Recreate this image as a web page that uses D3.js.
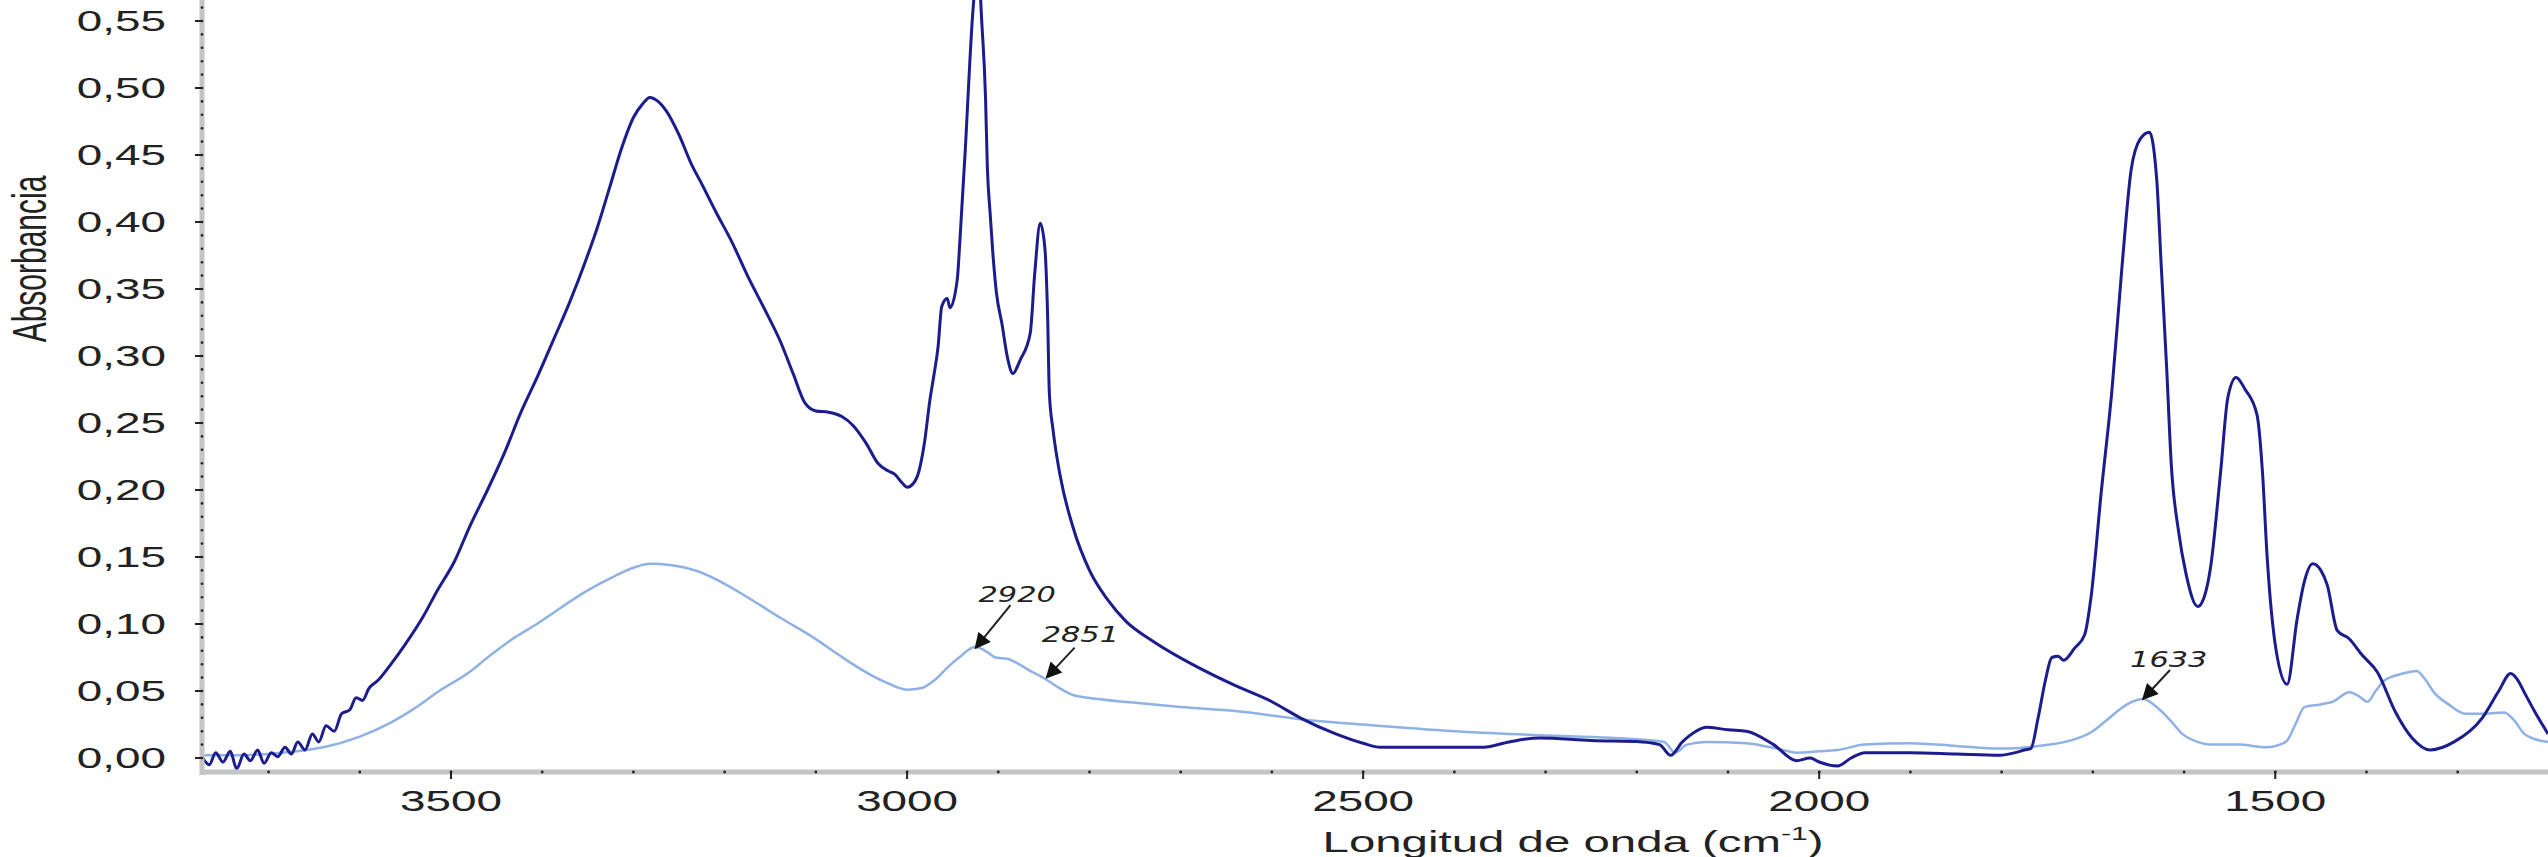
<!DOCTYPE html>
<html>
<head>
<meta charset="utf-8">
<script src="https://cdn.jsdelivr.net/npm/d3@7"></script>
<style>
  html, body { margin: 0; padding: 0; background: #fff; }
  svg { display: block; }
</style>
</head>
<body>
<div id="chart"></div>
<script>
// spectrum readings [wavenumber cm-1, absorbance]
var darkSpectrum = [
  [3773,0.001],[3765,-0.005],[3758,0.004],[3750,-0.003],[3742,0.005],[3735,-0.008],[3727,0.003],
  [3720,-0.002],[3712,0.006],[3705,-0.004],[3697,0.004],[3690,0.001],[3682,0.008],[3675,0.003],
  [3668,0.012],[3660,0.006],[3652,0.018],[3645,0.012],[3637,0.024],[3628,0.02],[3620,0.033],
  [3611,0.036],[3604,0.045],[3597,0.043],[3590,0.052],[3580,0.058],[3567,0.069],[3550,0.085],
  [3531,0.105],[3515,0.125],[3496,0.147],[3480,0.172],[3460,0.2],[3440,0.23],[3424,0.257],
  [3405,0.285],[3389,0.31],[3370,0.34],[3353,0.37],[3340,0.395],[3326,0.426],[3313,0.455],
  [3300,0.478],[3290,0.488],[3282,0.493],[3273,0.49],[3264,0.483],[3250,0.465],[3237,0.444],
  [3224,0.427],[3210,0.408],[3192,0.385],[3175,0.36],[3157,0.336],[3139,0.311],[3125,0.287],
  [3112,0.265],[3100,0.259],[3086,0.258],[3072,0.255],[3059,0.248],[3045,0.235],[3032,0.22],
  [3020,0.214],[3014,0.212],[3005,0.205],[3000,0.202],[2993,0.205],[2987,0.214],[2981,0.235],
  [2975,0.267],[2971,0.284],[2966,0.307],[2962,0.337],[2956,0.343],[2953,0.336],[2945,0.357],
  [2942,0.387],[2936,0.456],[2933,0.496],[2928,0.556],[2922,0.59],[2918,0.548],[2914,0.493],
  [2912,0.441],[2909,0.407],[2906,0.377],[2902,0.347],[2896,0.324],[2890,0.299],[2884,0.287],
  [2876,0.297],[2865,0.317],[2860,0.362],[2854,0.399],[2849,0.381],[2846,0.332],[2844,0.272],
  [2840,0.245],[2832,0.21],[2818,0.172],[2800,0.14],[2780,0.118],[2760,0.102],[2730,0.087],
  [2682,0.068],[2640,0.054],[2600,0.042],[2569,0.03],[2530,0.018],[2500,0.011],[2481,0.008],
  [2420,0.008],[2368,0.008],[2340,0.012],[2307,0.015],[2250,0.013],[2194,0.012],[2175,0.01],
  [2163,0.002],[2150,0.012],[2135,0.02],[2124,0.023],[2100,0.021],[2080,0.02],[2050,0.01],
  [2025,-0.002],[2010,0.0],[2000,-0.003],[1980,-0.006],[1965,0.0],[1950,0.004],[1900,0.004],
  [1850,0.003],[1802,0.002],[1785,0.004],[1775,0.006],[1768,0.007],[1760,0.03],[1752,0.058],
  [1745,0.075],[1738,0.076],[1732,0.073],[1720,0.082],[1709,0.092],[1702,0.12],[1691,0.197],
  [1679,0.275],[1668,0.367],[1658,0.439],[1648,0.462],[1638,0.467],[1630,0.432],[1625,0.367],
  [1619,0.29],[1614,0.219],[1606,0.169],[1598,0.138],[1585,0.113],[1578,0.12],[1571,0.142],
  [1560,0.213],[1552,0.269],[1543,0.284],[1533,0.275],[1520,0.256],[1514,0.213],[1509,0.151],
  [1499,0.08],[1487,0.055],[1476,0.104],[1468,0.132],[1459,0.145],[1450,0.14],[1443,0.129],
  [1432,0.095],[1419,0.089],[1405,0.077],[1388,0.064],[1368,0.034],[1350,0.015],[1330,0.006],
  [1304,0.012],[1273,0.03],[1255,0.05],[1242,0.063],[1234,0.058],[1227,0.049],[1215,0.034],
  [1201,0.018]
];

var lightSpectrum = [
  [3773,0.002],[3740,0.002],[3700,0.003],[3670,0.005],[3640,0.008],[3600,0.016],[3567,0.026],
  [3540,0.037],[3513,0.05],[3480,0.064],[3460,0.075],[3430,0.09],[3406,0.1],[3380,0.112],
  [3353,0.124],[3320,0.136],[3300,0.142],[3282,0.145],[3260,0.144],[3228,0.139],[3200,0.13],
  [3175,0.12],[3140,0.105],[3103,0.09],[3075,0.077],[3050,0.066],[3025,0.057],[3000,0.051],
  [2985,0.052],[2970,0.058],[2955,0.068],[2943,0.075],[2925,0.083],[2912,0.079],[2903,0.075],
  [2890,0.074],[2880,0.071],[2865,0.065],[2851,0.06],[2835,0.053],[2818,0.047],[2790,0.044],
  [2747,0.041],[2700,0.038],[2640,0.035],[2569,0.029],[2500,0.025],[2400,0.02],[2307,0.017],
  [2200,0.014],[2170,0.012],[2158,0.004],[2145,0.01],[2124,0.012],[2080,0.011],[2040,0.006],
  [2025,0.004],[2000,0.005],[1980,0.006],[1950,0.01],[1900,0.011],[1850,0.009],[1802,0.007],
  [1760,0.009],[1725,0.013],[1700,0.02],[1687,0.027],[1660,0.041],[1645,0.044],[1630,0.038],
  [1615,0.028],[1602,0.018],[1585,0.012],[1571,0.01],[1540,0.01],[1510,0.008],[1495,0.01],
  [1487,0.013],[1478,0.025],[1468,0.038],[1450,0.04],[1437,0.042],[1419,0.049],[1408,0.046],
  [1399,0.042],[1390,0.05],[1380,0.058],[1360,0.063],[1345,0.065],[1335,0.058],[1326,0.049],
  [1310,0.04],[1291,0.033],[1270,0.033],[1249,0.034],[1238,0.028],[1227,0.018],[1215,0.014],
  [1201,0.012]
];

var yTicks = [0, 0.05, 0.10, 0.15, 0.20, 0.25, 0.30, 0.35, 0.40, 0.45, 0.50, 0.55];
var xTicks = [3500, 3000, 2500, 2000, 1500];

// peak labels: text, wavenumber and absorbance at arrow tip
var peakLabels = ["2920", "2851", "1633"];
var peakWaves = [2925, 2847, 1645];
var peakAbs = [0.082, 0.060, 0.044];

var W = 2548, H = 857,
    stretch = 1.58,   // the original figure was widened horizontally
    tickFont = "'Liberation Sans', Arial, sans-serif";

var svg = d3.select("#chart")
  .append("svg")
  .attr("width", W)
  .attr("height", H);

var x = d3.scaleLinear().domain([3773, 1201]).range([202, 2548]);
var y = d3.scaleLinear().domain([0, 0.55]).range([758, 21]);

// text helper with horizontal stretch
function stretchedText(g, px, py, txt, rot){
  return g.append("text")
    .attr("transform", "translate(" + px + "," + py + ") scale(" + stretch + ",1)" + (rot ? " rotate(" + rot + ")" : ""))
    .text(txt);
}

// spectra
var line = d3.line()
  .x(function(d){ return x(d[0]); })
  .y(function(d){ return y(d[1]); })
  .curve(d3.curveMonotoneX);

svg.append("path")
  .datum(lightSpectrum)
  .attr("d", line)
  .style("fill", "none")
  .style("stroke", "#8fb1e6")
  .style("stroke-width", 2.5);

svg.append("path")
  .datum(darkSpectrum)
  .attr("d", line)
  .style("fill", "none")
  .style("stroke", "#1c1c8e")
  .style("stroke-width", 3);

// axis bars
var axisG = svg.append("g").attr("class", "axes");

axisG.append("line")
  .attr("x1", 202).attr("x2", 202)
  .attr("y1", 0).attr("y2", 775)
  .style("stroke", "#c4c4c4")
  .style("stroke-width", 5);

axisG.append("line")
  .attr("x1", 200).attr("x2", W)
  .attr("y1", 772).attr("y2", 772)
  .style("stroke", "#c4c4c4")
  .style("stroke-width", 5);

// y minor dots every 0.01
axisG.selectAll(".ydot")
  .data(d3.range(0, 57).map(function(i){ return i / 100; }))
  .enter()
  .append("circle")
  .attr("class", "ydot")
  .attr("cx", 202)
  .attr("cy", function(d){ return y(d); })
  .attr("r", 1.3)
  .style("fill", "#222");

// y major ticks + labels
axisG.selectAll(".ytick")
  .data(yTicks)
  .enter()
  .append("line")
  .attr("class", "ytick")
  .attr("x1", 195).attr("x2", 203)
  .attr("y1", function(d){ return y(d); })
  .attr("y2", function(d){ return y(d); })
  .style("stroke", "#222")
  .style("stroke-width", 2);

var yLab = axisG.append("g")
  .attr("font-family", tickFont)
  .attr("font-size", 29)
  .attr("fill", "#222")
  .attr("text-anchor", "end");

yTicks.forEach(function(t){
  stretchedText(yLab, 166, y(t) + 10, d3.format(".2f")(t).replace(".", ","));
});

// x minor dots every 100
axisG.selectAll(".xdot")
  .data(d3.range(1300, 3800, 100))
  .enter()
  .append("circle")
  .attr("class", "xdot")
  .attr("cx", function(d){ return x(d); })
  .attr("cy", 772)
  .attr("r", 1.4)
  .style("fill", "#222");

axisG.selectAll(".xtick")
  .data(xTicks)
  .enter()
  .append("line")
  .attr("class", "xtick")
  .attr("x1", function(d){ return x(d); })
  .attr("x2", function(d){ return x(d); })
  .attr("y1", 771).attr("y2", 779)
  .style("stroke", "#222")
  .style("stroke-width", 2);

var xLab = axisG.append("g")
  .attr("font-family", tickFont)
  .attr("font-size", 29)
  .attr("fill", "#222")
  .attr("text-anchor", "middle");

xTicks.forEach(function(t){
  stretchedText(xLab, x(t), 811, t);
});

// axis titles
var yTitle = stretchedText(svg, 46, 259, "Absorbancia", -90)
  .attr("font-family", tickFont)
  .attr("font-size", 30)
  .attr("fill", "#222")
  .attr("text-anchor", "middle");

var xTitle = svg.append("text")
  .attr("transform", "translate(1573,852) scale(" + stretch + ",1)")
  .attr("font-family", tickFont)
  .attr("font-size", 30)
  .attr("fill", "#222")
  .attr("text-anchor", "middle");
xTitle.append("tspan").text("Longitud de onda (cm");
xTitle.append("tspan").attr("font-size", 19).attr("dy", -12).text("-1");
xTitle.append("tspan").attr("dy", 12).text(")");

// peak annotations
svg.append("defs").append("marker")
  .attr("id", "arrowHead")
  .attr("viewBox", "0 0 10 10")
  .attr("refX", 9).attr("refY", 5)
  .attr("markerWidth", 9).attr("markerHeight", 8)
  .attr("markerUnits", "strokeWidth")
  .attr("orient", "auto")
  .append("path")
  .attr("d", "M0,0 L10,5 L0,10 Z")
  .style("fill", "#111");

// offsets of arrow start and label from tip
var arrowOff = [[35, -43], [28, -30], [27, -29]],
    textOff = [[3, -46], [-5, -36], [-13, -32]];

var notes = svg.append("g")
  .attr("font-family", "'DejaVu Sans', Verdana, sans-serif")
  .attr("font-style", "italic")
  .attr("font-size", 21)
  .attr("fill", "#222");

peakLabels.forEach(function(lab, i){
  var tx = x(peakWaves[i]), ty = y(peakAbs[i]);
  notes.append("line")
    .attr("x1", tx + arrowOff[i][0]).attr("y1", ty + arrowOff[i][1])
    .attr("x2", tx).attr("y2", ty)
    .style("stroke", "#222")
    .style("stroke-width", 2)
    .attr("marker-end", "url(#arrowHead)");
  notes.append("text")
    .attr("transform", "translate(" + (tx + textOff[i][0]) + "," + (ty + textOff[i][1]) + ") scale(1.45,1)")
    .text(lab);
});
</script>
</body>
</html>
